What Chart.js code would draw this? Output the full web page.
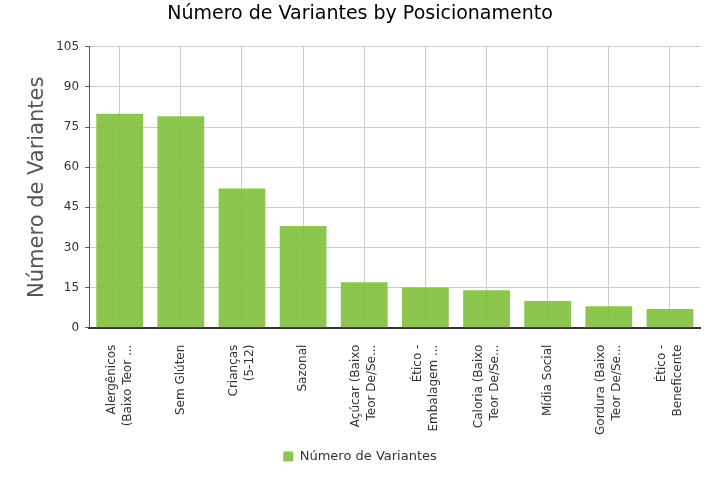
<!DOCTYPE html>
<html>
<head>
<meta charset="utf-8">
<script src="https://cdn.jsdelivr.net/npm/chart.js@4/dist/chart.umd.min.js"></script>
<style>
  body { margin: 0; background: #fff; }
  #wrap { width: 715px; height: 500px; }
</style>
</head>
<body>
<div id="wrap"><canvas id="barChart"></canvas></div>
<script>
// categories (already truncated as in the picture)
var categories = [
  ["Alergênicos", "(Baixo Teor ..."],
  ["Sem Glúten"],
  ["Crianças", "(5-12)"],
  ["Sazonal"],
  ["Açúcar (Baixo", "Teor De/Se..."],
  ["Ético -", "Embalagem ..."],
  ["Caloria (Baixo", "Teor De/Se..."],
  ["Mídia Social"],
  ["Gordura (Baixo", "Teor De/Se..."],
  ["Ético -", "Beneficente"]
];
var variantes = [80, 79, 52, 38, 17, 15, 14, 10, 8, 7];
var seriesName = "Número de Variantes";
var yMax = 105;
var yStep = 15;

var font = "'DejaVu Sans', Verdana, sans-serif";
var xTickPad = 16;
var xLineHeight = 16;

// chart.js puts the first line of a rotated label on the tick,
// so the labels are kept for sizing but drawn again centred here
var centredLabels = {
  id: 'centredLabels',
  afterDraw: function (chart) {
    var scale = chart.scales.x;
    var c = chart.ctx;
    c.save();
    c.fillStyle = '#333';
    c.font = '12px ' + font;
    c.textAlign = 'right';
    c.textBaseline = 'middle';
    for (var i = 0; i < categories.length; i++) {
      var lines = categories[i];
      var x = scale.getPixelForTick(i);
      c.save();
      c.translate(x, scale.top + xTickPad + 1);
      c.rotate(-Math.PI / 2);
      for (var j = 0; j < lines.length; j++) {
        c.fillText(lines[j], 0, (j - (lines.length - 1) / 2) * xLineHeight);
      }
      c.restore();
    }
    c.restore();
  }
};

var ctx = document.getElementById("barChart").getContext("2d");
var myBarChart = new Chart(ctx, {
  type: 'bar',
  data: {
    labels: categories,
    datasets: [{
      label: seriesName,
      data: variantes,
      backgroundColor: 'rgba(128,192,60,0.9)',
      borderWidth: 0,
      categoryPercentage: 0.85,
      barPercentage: 0.9
    }]
  },
  plugins: [centredLabels],
  options: {
    responsive: true,
    maintainAspectRatio: false,
    animation: false,
    layout: { padding: { left: 10, right: 5, top: 0, bottom: 27 } },
    plugins: {
      title: {
        display: true,
        text: "Número de Variantes by Posicionamento",
        color: '#000',
        font: { family: font, size: 19, weight: 'normal' },
        padding: { top: 3, bottom: 21 }
      },
      legend: {
        position: 'bottom',
        labels: {
          color: '#333',
          font: { family: font, size: 13 },
          boxWidth: 10,
          boxHeight: 10,
          padding: 0
        }
      },
      tooltip: { enabled: false }
    },
    scales: {
      x: {
        grid: { offset: false, color: '#cccccc', drawTicks: false },
        border: { color: '#333', width: 2 },
        ticks: {
          color: 'rgba(0,0,0,0)',
          font: { family: font, size: 12 },
          maxRotation: 90,
          minRotation: 90,
          autoSkip: false,
          padding: xTickPad
        }
      },
      y: {
        min: 0,
        max: yMax,
        grid: { color: '#cccccc', tickLength: 4, tickColor: '#555' },
        border: { color: '#555' },
        ticks: {
          stepSize: yStep,
          color: '#333',
          font: { family: font, size: 12 },
          padding: 6
        },
        title: {
          display: true,
          text: seriesName,
          color: '#555',
          font: { family: font, size: 21 },
          padding: { top: 15, bottom: 0 }
        }
      }
    }
  }
});
</script>
</body>
</html>
